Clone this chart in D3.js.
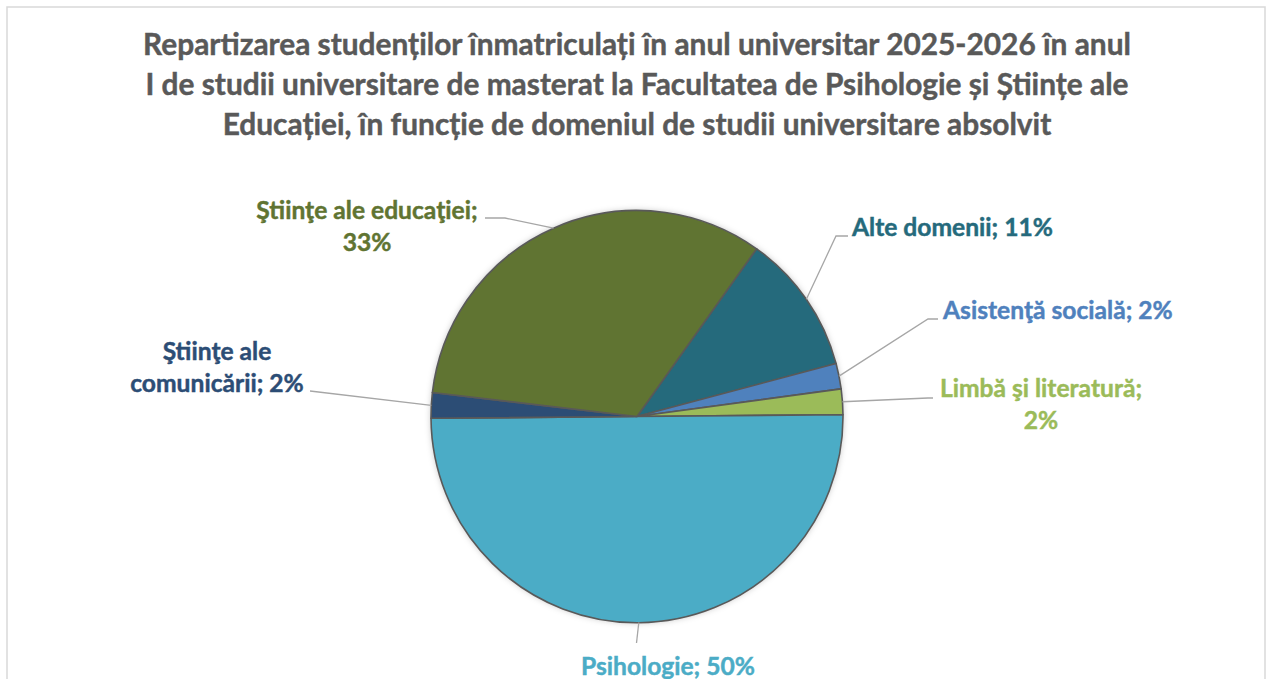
<!DOCTYPE html>
<html><head><meta charset="utf-8">
<script src="https://cdn.jsdelivr.net/npm/d3@7"></script>
<style>body{margin:0;background:#fff;overflow:hidden} svg{display:block}</style>
</head><body><svg id="c" width="1266" height="679"></svg>
<script>
// ---- data ----
const categories = ["Alte domenii", "Asistenţă socială", "Limbă şi literatură", "Psihologie", "Ştiinţe ale comunicării", "Ştiinţe ale educaţiei"];
const values = [11, 2, 2, 50, 2, 33];
const colors = ["#256A7C", "#4F81BD", "#9BBB59", "#4BACC6", "#2C4D75", "#607432"];
const titleLines = [
  "Repartizarea studenților înmatriculați în anul universitar 2025-2026 în anul",
  "I de studii universitare de masterat la Facultatea de Psihologie și Științe ale",
  "Educației, în funcție de domeniul de studii universitare absolvit"
];

// ---- layout (positions only) ----
const W = 1266, H = 679;
const cx = 637, cy = 416.5, R = 206;
const startDeg = 35.5;
const labelLayout = [
  {anchor: "start",  x: 852,  y: [236],      breakAfter: 0, path: [[836, 236], [848, 236]]},
  {anchor: "start",  x: 943,  y: [319],      breakAfter: 0, path: [[928, 319], [938, 319]]},
  {anchor: "middle", x: 1041, y: [397, 429], breakAfter: 3, path: [[928, 398], [933, 398]]},
  {anchor: "middle", x: 668,  y: [675],      breakAfter: 0, path: [[636.5, 643]]},
  {anchor: "middle", x: 217,  y: [360, 392], breakAfter: 2, path: [[310, 391]]},
  {anchor: "middle", x: 367,  y: [219, 251], breakAfter: 3, path: [[505, 218], [485, 218]]}
];
const FONT = "Lato, 'Open Sans', sans-serif";

const svg = d3.select("#c");
svg.append("rect").attr("width", W).attr("height", H).attr("fill", "#fff");
svg.append("rect").attr("x", 7).attr("y", 7).attr("width", 1258).attr("height", 720)
  .attr("fill", "none").attr("stroke", "#d9d9d9").attr("stroke-width", 1.5);

const defs = svg.append("defs");
const f = defs.append("filter").attr("id", "sh").attr("x", "-20%").attr("y", "-20%").attr("width", "140%").attr("height", "140%");
f.append("feDropShadow").attr("dx", 0).attr("dy", 0).attr("stdDeviation", 3).attr("flood-color", "#000").attr("flood-opacity", 0.25);

// helper to fit a font size to a target width
function fitSize(text, target, weight) {
  const t = svg.append("text").attr("font-family", FONT).attr("font-weight", weight).attr("font-size", 100).text(text);
  const w = t.node().getComputedTextLength();
  t.remove();
  return 100 * target / w;
}

// ---- title ----
const tSize = fitSize(titleLines[0], 988, 700);
svg.append("g").selectAll("text").data(titleLines).join("text")
  .attr("x", 637).attr("y", (d, i) => 55 + i * 40)
  .attr("text-anchor", "middle")
  .attr("font-family", FONT).attr("font-weight", 700).attr("font-size", tSize)
  .attr("fill", "#595959").attr("stroke", "#595959").attr("stroke-width", 0.45)
  .text(d => d);

// ---- pie ----
const data = categories.map((c, i) => ({cat: c, value: values[i], color: colors[i], i}));
const a0 = startDeg * Math.PI / 180;
const pie = d3.pie().value(d => d.value).sort(null).startAngle(a0).endAngle(a0 + 2 * Math.PI);
const arcs = pie(data);
const arc = d3.arc().innerRadius(0).outerRadius(R);

const g = svg.append("g").attr("transform", `translate(${cx},${cy})`);
g.append("circle").attr("r", R).attr("fill", "#fff").attr("filter", "url(#sh)");
g.selectAll("path.slice").data(arcs).join("path")
  .attr("class", "slice")
  .attr("d", arc)
  .attr("fill", d => d.data.color)
  .attr("stroke", "#595959").attr("stroke-width", 1.6).attr("stroke-linejoin", "round");

// ---- leader lines ----
const line = d3.line();
svg.append("g").selectAll("path").data(arcs).join("path")
  .attr("d", d => {
    const m = (d.startAngle + d.endAngle) / 2;
    const p = [cx + R * Math.sin(m), cy - R * Math.cos(m)];
    return line([p, ...labelLayout[d.index].path]);
  })
  .attr("fill", "none").attr("stroke", "#a6a6a6").attr("stroke-width", 1.3);

// ---- labels ----
const lSize = fitSize("Alte domenii; 11%", 201, 700);
const lg = svg.append("g");
arcs.forEach(d => {
  const L = labelLayout[d.index];
  const full = `${d.data.cat}; ${d.data.value}%`;
  const words = full.split(" ");
  const lines = L.breakAfter ? [words.slice(0, L.breakAfter).join(" "), words.slice(L.breakAfter).join(" ")] : [full];
  lines.forEach((txt, k) => {
    lg.append("text").attr("x", L.x).attr("y", L.y[k])
      .attr("text-anchor", L.anchor)
      .attr("font-family", FONT).attr("font-weight", 700).attr("font-size", lSize)
      .attr("fill", d.data.color).attr("stroke", d.data.color).attr("stroke-width", 0.45)
      .text(txt);
  });
});
</script>
</body></html>
